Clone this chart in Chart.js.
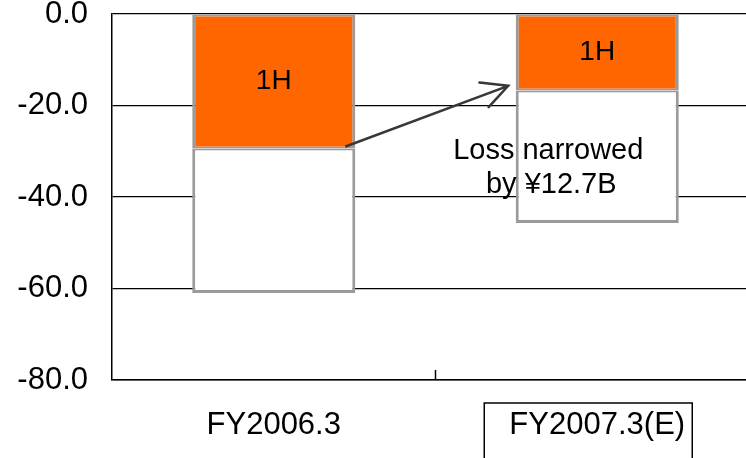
<!DOCTYPE html>
<html>
<head>
<meta charset="utf-8">
<script src="https://cdn.jsdelivr.net/npm/chart.js@4/dist/chart.umd.min.js"></script>
<style>
  html, body { margin: 0; padding: 0; background: #fff; overflow: hidden; }
  #wrap { position: relative; width: 759px; height: 458px; }
</style>
</head>
<body>
<div id="wrap"><canvas id="c"></canvas></div>
<script>
const categories = ['FY2006.3', 'FY2007.3(E)'];
const firstHalf = [-29.4, -16.7];
const secondHalf = [-31.6, -29.0];
const seriesNames = ['1H', '2H'];
const yMin = -80, yMax = 0, yStep = 20;
const annotationLines = ['Loss narrowed', 'by ¥12.7B'];
const arrowFrom = { index: 0, value: -28.9 };
const arrowTo = { index: 1, value: -15.7 };
const boxedCategory = 1;

const FONT = "'Liberation Sans', Arial, sans-serif";

const overlay = {
  id: 'overlay',
  afterDatasetsDraw(chart) {
    const ctx = chart.ctx;
    const x = chart.scales.x, y = chart.scales.y;
    const meta0 = chart.getDatasetMeta(0);
    // 1H labels
    ctx.save();
    ctx.fillStyle = '#000';
    ctx.font = '28px ' + FONT;
    ctx.textAlign = 'center';
    ctx.textBaseline = 'middle';
    meta0.data.forEach((bar, i) => {
      const cy = (y.getPixelForValue(0) + y.getPixelForValue(firstHalf[i])) / 2;
      ctx.fillText(seriesNames[0], bar.x, cy);
    });
    ctx.restore();

    // arrow
    const b0 = meta0.data[arrowFrom.index], b1 = meta0.data[arrowTo.index];
    const x0 = b0.x + b0.width / 2 - 9, y0 = y.getPixelForValue(arrowFrom.value);
    const x1 = b1.x - b1.width / 2 - 7.5, y1 = y.getPixelForValue(arrowTo.value);
    ctx.save();
    ctx.strokeStyle = '#383838';
    ctx.lineWidth = 2.5;
    ctx.lineCap = 'round';
    ctx.beginPath();
    ctx.moveTo(x0, y0); ctx.lineTo(x1, y1);
    const ang = Math.atan2(y1 - y0, x1 - x0);
    const hl = 29, ha = 27 * Math.PI / 180;
    ctx.moveTo(x1 - hl * Math.cos(ang - ha), y1 - hl * Math.sin(ang - ha));
    ctx.lineTo(x1, y1);
    ctx.lineTo(x1 - hl * Math.cos(ang + ha), y1 - hl * Math.sin(ang + ha));
    ctx.stroke();
    ctx.restore();

    // annotation text
    ctx.save();
    ctx.fillStyle = '#000';
    ctx.font = '29px ' + FONT;
    ctx.textAlign = 'center';
    ctx.textBaseline = 'alphabetic';
    const tx = b1.x - 49;
    const ty = y.getPixelForValue(-31.7);
    ctx.fillText(annotationLines[0], tx, ty);
    ctx.fillText(annotationLines[1], tx + 3, ty + 34);
    ctx.restore();
  },
  afterDraw(chart) {
    const ctx = chart.ctx;
    const x = chart.scales.x;
    const area = chart.chartArea;
    ctx.save();
    ctx.strokeStyle = '#000';
    ctx.lineWidth = 1.5;
    // middle tick mark on category axis
    const mid = (x.getPixelForValue(0) + x.getPixelForValue(1)) / 2;
    ctx.beginPath();
    ctx.moveTo(mid, area.bottom - 10);
    ctx.lineTo(mid, area.bottom);
    ctx.stroke();
    // box around estimated label
    const cx = x.getPixelForValue(boxedCategory);
    ctx.beginPath();
    ctx.rect(cx - 113, area.bottom + 23, 208, 80);
    ctx.stroke();
    ctx.restore();
  }
};

new Chart(document.getElementById('c'), {
  type: 'bar',
  data: {
    labels: categories,
    datasets: [
      {
        label: seriesNames[0],
        data: firstHalf,
        backgroundColor: '#FF6600',
        borderColor: '#9a9a9a',
        borderWidth: { left: 3, right: 3, top: 2, bottom: 2 },
        borderSkipped: false,
        barPercentage: 0.504,
        categoryPercentage: 1.0
      },
      {
        label: seriesNames[1],
        data: secondHalf,
        backgroundColor: '#FFFFFF',
        borderColor: '#9a9a9a',
        borderWidth: { left: 3, right: 3, top: 2, bottom: 3 },
        borderSkipped: false,
        barPercentage: 0.504,
        categoryPercentage: 1.0
      }
    ]
  },
  options: {
    responsive: true,
    maintainAspectRatio: false,
    animation: false,
    devicePixelRatio: 1,
    layout: { padding: { top: 14, left: 0, right: 0, bottom: 0 } },
    plugins: {
      legend: { display: false },
      tooltip: { enabled: false }
    },
    scales: {
      x: {
        stacked: true,
        grid: { display: false, drawTicks: false },
        border: { display: true, color: '#000', width: 1.5 },
        ticks: {
          color: '#000',
          font: { family: FONT, size: 31 },
          padding: 27,
          maxRotation: 0,
          autoSkip: false
        },
        afterFit(scale) { scale.height = 78; scale.paddingLeft = 0; scale.paddingRight = 0; }
      },
      y: {
        stacked: true,
        min: yMin,
        max: yMax,
        grid: { color: '#000', lineWidth: 1.2, drawTicks: false },
        border: { display: true, color: '#000', width: 1.5 },
        ticks: {
          stepSize: yStep,
          color: '#000',
          padding: 24,
          font: { family: FONT, size: 31 },
          callback: (v) => Number(v).toFixed(1)
        },
        afterFit(scale) { scale.width = 112; scale.paddingTop = 0; scale.paddingBottom = 0; }
      }
    }
  },
  plugins: [overlay]
});
</script>
</body>
</html>
